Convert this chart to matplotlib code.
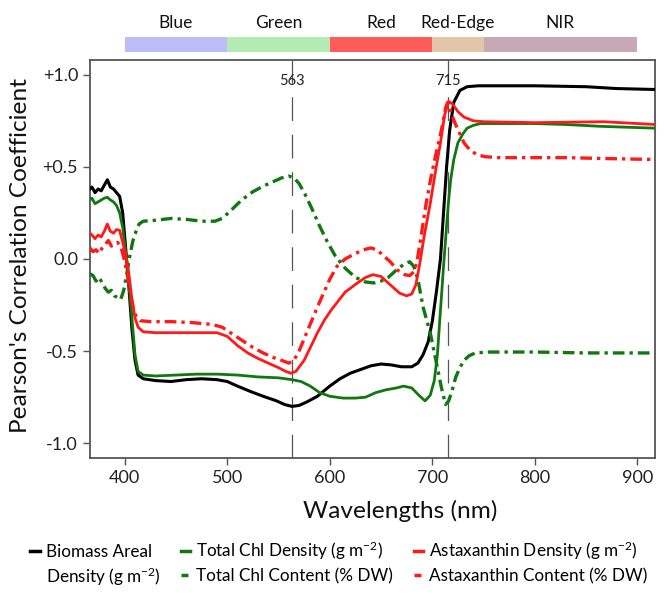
import matplotlib
matplotlib.use("Agg")
import matplotlib.pyplot as plt
from matplotlib.lines import Line2D
import matplotlib.transforms as mtransforms

plt.rcParams['font.family'] = ['Lato', 'DejaVu Sans']
plt.rcParams['mathtext.fontset'] = 'custom'
plt.rcParams['mathtext.rm'] = 'Lato'
plt.rcParams['mathtext.it'] = 'Lato:italic'
plt.rcParams['mathtext.bf'] = 'Lato:bold'

# Spectral bands shown above the plot
band_names = ['Blue', 'Green', 'Red', 'Red-Edge', 'NIR']
band_start = [400, 500, 600, 700, 750]
band_end = [500, 600, 700, 750, 900]
band_colors = ['#BCBCF6', '#B4EBB4', '#FF5B5B', '#E2C6A7', '#C9A8B5']

# Marked wavelengths
marked_wl = [563, 715]

# Biomass Areal Density
wl_biomass = [366, 368, 371, 374, 377, 380, 383, 386, 389, 392, 395, 398, 401, 404,
              407, 410, 413, 418, 430, 445, 460, 475, 490, 500, 510, 523, 535, 548,
              556, 563, 570, 578, 588, 600, 610, 620, 630, 640, 650, 660, 670, 680,
              686, 691, 696, 700, 704, 708, 711, 714, 717, 721, 727, 734, 745, 760,
              800, 850, 880, 917]
r_biomass = [0.38, 0.39, 0.36, 0.38, 0.37, 0.40, 0.43, 0.39, 0.38, 0.36, 0.34, 0.25, 0.05, -0.15,
             -0.38, -0.55, -0.63, -0.65, -0.66, -0.665, -0.655, -0.65, -0.655, -0.665, -0.69, -0.72, -0.745, -0.77,
             -0.79, -0.80, -0.795, -0.775, -0.745, -0.69, -0.65, -0.62, -0.60, -0.58, -0.57, -0.575, -0.585, -0.585,
             -0.565, -0.52, -0.45, -0.34, -0.18, 0.0, 0.25, 0.5, 0.7, 0.85, 0.915, 0.935, 0.94, 0.94,
             0.94, 0.935, 0.925, 0.92]

# Total Chl Density
wl_chl_dens = [366, 368, 371, 374, 377, 380, 383, 386, 389, 392, 395, 398, 401, 404,
               407, 410, 413, 418, 430, 450, 470, 490, 510, 530, 550, 563, 572, 581,
               590, 600, 613, 625, 635, 645, 655, 665, 672, 680, 687, 693, 698, 702,
               705, 708, 711, 714, 716, 718, 721, 725, 730, 734, 740, 747, 800, 830,
               864, 917]
r_chl_dens = [0.32, 0.33, 0.30, 0.31, 0.32, 0.33, 0.335, 0.32, 0.31, 0.29, 0.25, 0.17, 0.03, -0.12,
              -0.32, -0.52, -0.61, -0.63, -0.635, -0.63, -0.625, -0.625, -0.63, -0.64, -0.645, -0.655, -0.665, -0.69,
              -0.725, -0.745, -0.755, -0.755, -0.75, -0.725, -0.71, -0.70, -0.69, -0.70, -0.74, -0.77, -0.74, -0.66,
              -0.52, -0.28, -0.04, 0.18, 0.32, 0.43, 0.54, 0.63, 0.68, 0.71, 0.725, 0.735, 0.735, 0.73,
              0.72, 0.71]

# Total Chl Content
wl_chl_cont = [366, 369, 372, 375, 378, 381, 384, 387, 390, 393, 396, 399, 402, 405,
               408, 411, 414, 418, 430, 445, 460, 475, 488, 495, 502, 514, 525, 535,
               545, 553, 560, 565, 570, 576, 582, 590, 597, 605, 615, 625, 635, 643,
               650, 657, 665, 672, 678, 682, 686, 691, 698, 705, 709, 713, 716, 719,
               723, 727, 731, 736, 742, 755, 800, 850, 880, 917]
r_chl_cont = [-0.08, -0.09, -0.12, -0.10, -0.13, -0.16, -0.18, -0.17, -0.20, -0.21, -0.22, -0.17, -0.08, 0.02,
              0.10, 0.15, 0.19, 0.205, 0.21, 0.22, 0.215, 0.205, 0.205, 0.22, 0.255, 0.32, 0.365, 0.395,
              0.42, 0.44, 0.45, 0.44, 0.41, 0.35, 0.28, 0.18, 0.10, 0.02, -0.05, -0.10, -0.125, -0.13,
              -0.12, -0.10, -0.06, -0.03, -0.015, -0.04, -0.11, -0.26, -0.40, -0.59, -0.70, -0.79, -0.77, -0.72,
              -0.64, -0.59, -0.55, -0.525, -0.51, -0.505, -0.505, -0.51, -0.51, -0.51]

# Astaxanthin Density
wl_ast_dens = [366, 368, 371, 374, 377, 380, 383, 386, 389, 392, 395, 398, 401, 404,
               407, 410, 413, 418, 430, 450, 470, 490, 500, 510, 520, 530, 540, 550,
               557, 562, 567, 575, 582, 588, 595, 601, 608, 615, 627, 635, 642, 650,
               659, 668, 675, 680, 684, 688, 692, 698, 703, 708, 712, 716, 720, 725,
               731, 740, 750, 800, 867, 917]
r_ast_dens = [0.14, 0.13, 0.11, 0.13, 0.12, 0.15, 0.19, 0.15, 0.14, 0.16, 0.155, 0.09, 0.02, -0.08,
              -0.22, -0.32, -0.37, -0.395, -0.40, -0.40, -0.40, -0.40, -0.42, -0.47, -0.51, -0.54, -0.565, -0.59,
              -0.61, -0.62, -0.61, -0.55, -0.47, -0.40, -0.33, -0.28, -0.23, -0.18, -0.13, -0.10, -0.085, -0.095,
              -0.14, -0.185, -0.20, -0.19, -0.14, -0.02, 0.12, 0.30, 0.47, 0.63, 0.78, 0.855, 0.84, 0.80,
              0.77, 0.75, 0.745, 0.74, 0.745, 0.73]

# Astaxanthin Content
wl_ast_cont = [366, 369, 372, 375, 378, 381, 384, 387, 390, 393, 396, 399, 402, 405,
               408, 411, 415, 425, 445, 465, 485, 495, 503, 514, 525, 535, 545, 553,
               560, 565, 570, 576, 582, 588, 594, 600, 607, 615, 625, 633, 640, 646,
               652, 659, 666, 673, 678, 682, 685, 689, 694, 699, 704, 709, 713, 715,
               718, 722, 726, 731, 737, 744, 752, 765, 800, 830, 870, 917]
r_ast_cont = [0.06, 0.04, 0.05, 0.03, 0.06, 0.08, 0.10, 0.07, 0.08, 0.09, 0.07, 0.01, -0.07, -0.17,
              -0.26, -0.31, -0.335, -0.34, -0.34, -0.345, -0.355, -0.37, -0.40, -0.44, -0.48, -0.51, -0.535, -0.55,
              -0.565, -0.55, -0.50, -0.42, -0.34, -0.26, -0.185, -0.11, -0.04, 0.0, 0.03, 0.05, 0.06, 0.05,
              0.02, -0.015, -0.06, -0.085, -0.09, -0.07, -0.02, 0.12, 0.30, 0.45, 0.58, 0.70, 0.82, 0.85,
              0.80, 0.74, 0.69, 0.63, 0.59, 0.565, 0.555, 0.55, 0.55, 0.55, 0.545, 0.54]

x_ticks = [400, 500, 600, 700, 800, 900]
y_ticks = [-1.0, -0.5, 0.0, 0.5, 1.0]
y_tick_labels = ['-1.0', '-0.5', '0.0', '+0.5', '+1.0']

dashdot = (0, (3.5, 1.5, 1.0, 1.5))

fig = plt.figure(figsize=(6.66, 5.94), dpi=100)
ax = fig.add_axes([0.135, 0.229, 0.848, 0.670])

# reference lines
for w in marked_wl:
    ax.axvline(w, color='#555555', lw=0.9, linestyle=(0, (19, 11)), zorder=1)
    ax.text(w, 0.965, str(w), ha='center', va='center', fontsize=10.5, color='#222222')

ax.plot(wl_biomass, r_biomass, color='black', lw=2.2, zorder=3)
ax.plot(wl_chl_dens, r_chl_dens, color='#117711', lw=2.0, zorder=3)
ax.plot(wl_chl_cont, r_chl_cont, color='#117711', lw=2.4, linestyle=dashdot, zorder=3)
ax.plot(wl_ast_dens, r_ast_dens, color='#FF1A1A', lw=2.0, zorder=4)
ax.plot(wl_ast_cont, r_ast_cont, color='#FF1A1A', lw=2.4, linestyle=dashdot, zorder=4)

ax.set_xlim(366, 917)
ax.set_ylim(-1.08, 1.08)
ax.set_xticks(x_ticks)
ax.set_yticks(y_ticks)
ax.set_yticklabels(y_tick_labels)
ax.tick_params(axis='both', labelsize=13, length=5, width=1, color='#555555',
               labelcolor='#222222', direction='out')
for side in ['left', 'right', 'top', 'bottom']:
    ax.spines[side].set_color('#555555')
    ax.spines[side].set_linewidth(1.3)

ax.set_xlabel('Wavelengths (nm)', fontsize=17.6, color='#111111')
ax.xaxis.set_label_coords(0.549, -0.105)
ax.set_ylabel("Pearson's Correlation Coefficient", fontsize=17.6, color='#111111')
ax.yaxis.set_label_coords(-0.105, 0.51)

# spectral band strip
trans = mtransforms.blended_transform_factory(ax.transData, ax.transAxes)
for name, s, e, c in zip(band_names, band_start, band_end, band_colors):
    ax.fill_between([s, e], 1.020, 1.058, transform=trans, color=c, lw=0, clip_on=False)
    ax.text((s + e) / 2, 1.094, name, transform=trans, ha='center', va='center',
            fontsize=12.5, color='#111111')

# legend
handles = [
    Line2D([], [], color='black', lw=2.5),
    Line2D([], [], color='none'),
    Line2D([], [], color='#117711', lw=2.5),
    Line2D([], [], color='#117711', lw=2.5, linestyle=(0, (2, 1.2, 0.8, 1.2))),
    Line2D([], [], color='#FF1A1A', lw=2.5),
    Line2D([], [], color='#FF1A1A', lw=2.5, linestyle=(0, (2, 1.2, 0.8, 1.2))),
]
labels = [
    'Biomass Areal',
    'Density (g m$^{-2}$)',
    'Total Chl Density (g m$^{-2}$)',
    'Total Chl Content (% DW)',
    'Astaxanthin Density (g m$^{-2}$)',
    'Astaxanthin Content (% DW)',
]
fig.legend(handles, labels, ncol=3, loc='upper left', bbox_to_anchor=(0.035, 0.103),
           frameon=False, fontsize=12.3, handlelength=0.55, handletextpad=0.35,
           columnspacing=1.2, labelspacing=0.35, borderaxespad=0)

fig.savefig('out.png', dpi=100)
